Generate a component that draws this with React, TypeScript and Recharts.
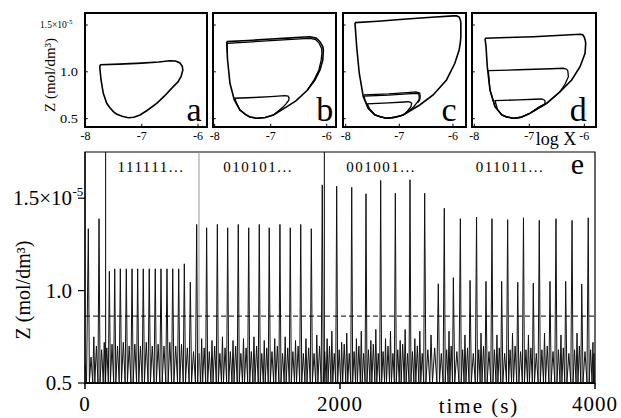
import React from 'react';
import { LineChart, Line, XAxis, YAxis, ReferenceLine, ReferenceArea } from 'recharts';

const FONT = '"Liberation Serif", "Times New Roman", serif';

// ---------- panel e : Z(t) time series ----------
// spike times (s)
const spikeTimes = [
  26, 69, 110, 151,
  191, 233, 277, 324, 369, 413, 457, 504, 551, 596, 643, 688, 735, 779, 826,
  876, 915, 954, 996, 1038, 1078, 1119, 1161, 1202, 1243, 1284, 1325, 1367, 1406, 1445, 1488, 1529, 1570, 1610, 1651, 1692, 1733, 1775, 1818,
  1861, 1899, 1936, 1974, 2013, 2053, 2092, 2129, 2167, 2204, 2242, 2281, 2319, 2357, 2396, 2434, 2472, 2511, 2549, 2587, 2626, 2664,
  2714, 2771, 2818, 2855, 2889, 2944, 2980, 3020, 3071, 3106, 3145, 3192, 3231, 3268, 3315, 3353, 3394, 3439, 3478, 3516, 3563, 3604, 3647, 3694, 3733, 3770, 3820, 3859, 3896, 3947, 3984,
];
// spike maxima of Z (x1e-5 mol/dm3)
const spikePeaks = [
  1.335, 0.75, 1.389, 0.72,
  1.105, 1.118, 1.118, 1.118, 1.118, 1.118, 1.118, 1.118, 1.118, 1.118, 1.118, 1.118, 1.118, 1.145, 1.046,
  1.358, 0.74, 1.34, 0.73, 1.358, 0.75, 1.34, 0.73, 1.358, 0.74, 1.34, 0.75, 1.358, 0.73, 1.34, 0.74, 1.358, 0.75, 1.34, 0.73, 1.358, 0.74, 1.335, 0.76,
  1.572, 0.74, 0.78, 1.565, 0.72, 0.77, 1.559, 0.74, 0.78, 1.524, 0.73, 0.79, 1.596, 0.74, 0.78, 1.527, 0.73, 0.79, 1.6, 0.74, 0.78, 1.527,
  0.76, 1.037, 1.446, 0.78, 1.07, 1.389, 0.76, 1.055, 1.397, 0.77, 1.05, 1.389, 0.76, 1.05, 1.384, 0.77, 1.045, 1.394, 0.76, 1.04, 1.38, 0.77, 1.05, 1.389, 0.76, 1.05, 1.38, 0.77, 1.035, 1.394, 0.72,
];
// small hump maxima following each spike
const humpPeaks = [
  0.64, 0.7, 0.68, 0.69,
  0.71, 0.7, 0.72, 0.7, 0.71, 0.7, 0.72, 0.7, 0.71, 0.7, 0.72, 0.7, 0.71, 0.69, 0.67,
  0.66, 0.69, 0.67, 0.7, 0.66, 0.69, 0.67, 0.7, 0.66, 0.69, 0.67, 0.7, 0.66, 0.69, 0.67, 0.7, 0.66, 0.69, 0.67, 0.7, 0.66, 0.69, 0.66, 0.7,
  0.67, 0.7, 0.66, 0.68, 0.71, 0.66, 0.67, 0.7, 0.66, 0.68, 0.71, 0.66, 0.67, 0.7, 0.66, 0.68, 0.71, 0.66, 0.67, 0.7, 0.66, 0.68,
  0.69, 0.66, 0.68, 0.7, 0.67, 0.68, 0.69, 0.66, 0.68, 0.7, 0.67, 0.68, 0.69, 0.66, 0.68, 0.7, 0.67, 0.68, 0.69, 0.66, 0.68, 0.7, 0.67, 0.68, 0.69, 0.66, 0.68, 0.7, 0.67, 0.68, 0.66,
];
const troughZ = 0.505;
const startZ = 0.6;
const endTime = 4000;
const sectionBreaks = [162, 894, 1877];
const thresholdZ = 0.862;
const codeLabels = ['111111...', '010101...', '001001...', '011011...'];
const mainXTicks = [0, 2000, 4000];
const mainYTicks = [0.5, 1.0, 1.5];

// build the polyline from the read maxima/minima
const series: { t: number; z: number }[] = [{ t: 0, z: startZ }, { t: 12, z: troughZ }];
spikeTimes.forEach((t, i) => {
  series.push({ t, z: spikePeaks[i] });
  const next = i < spikeTimes.length - 1 ? spikeTimes[i + 1] : endTime;
  const g = next - t;
  series.push({ t: t + 0.2 * g, z: troughZ });
  series.push({ t: t + 0.5 * g, z: humpPeaks[i] });
  series.push({ t: t + 0.8 * g, z: troughZ });
});

// ---------- panels a-d : phase portraits (log X, Z) ----------
const loopA = [[-7.74,1.075],[-7.4,1.082],[-7.0,1.093],[-6.7,1.105],[-6.5,1.118],[-6.4,1.116],[-6.32,1.095],[-6.28,1.06],[-6.27,1.02],[-6.3,0.95],[-6.36,0.89],[-6.44,0.842],[-6.6,0.74],[-6.734,0.664],[-6.9,0.59],[-7.03,0.54],[-7.14,0.515],[-7.24,0.51],[-7.35,0.525],[-7.45,0.55],[-7.505,0.575],[-7.57,0.62],[-7.623,0.664],[-7.684,0.771],[-7.724,0.913],[-7.745,1.04],[-7.74,1.075]];

const loopBOuter = [[-7.786,1.322],[-7.4,1.335],[-7.071,1.347],[-6.7,1.36],[-6.4,1.372],[-6.298,1.375],[-6.19,1.36],[-6.12,1.322],[-6.07,1.27],[-6.06,1.233],[-6.07,1.126],[-6.12,1.02],[-6.21,0.913],[-6.35,0.8],[-6.55,0.69],[-6.71,0.628],[-6.95,0.54],[-7.1,0.512],[-7.25,0.504],[-7.38,0.52],[-7.45,0.545],[-7.55,0.593],[-7.65,0.7],[-7.727,0.878],[-7.77,1.126],[-7.786,1.322]];
const loopBTwin = [[-7.772,1.2],[-7.78,1.305],[-7.4,1.318],[-7.071,1.33],[-6.7,1.343],[-6.4,1.355],[-6.29,1.357],[-6.2,1.345],[-6.14,1.31],[-6.09,1.25],[-6.085,1.2],[-6.1,1.12],[-6.14,1.02],[-6.22,0.92],[-6.35,0.8]];
const loopBInner = [[-7.25,0.504],[-7.38,0.52],[-7.45,0.545],[-7.55,0.593],[-7.62,0.68],[-7.637,0.718],[-7.3,0.726],[-7.0,0.735],[-6.75,0.745],[-6.69,0.74],[-6.67,0.72],[-6.68,0.695],[-6.73,0.655],[-6.775,0.628],[-6.95,0.54],[-7.1,0.512],[-7.25,0.504]];

const loopCOuter = [[-7.827,1.525],[-7.4,1.54],[-6.927,1.561],[-6.4,1.582],[-5.996,1.597],[-5.93,1.597],[-5.885,1.585],[-5.86,1.55],[-5.853,1.52],[-5.853,1.375],[-5.865,1.3],[-5.885,1.233],[-5.965,1.091],[-6.12,0.913],[-6.37,0.753],[-6.62,0.646],[-6.927,0.54],[-7.08,0.515],[-7.236,0.504],[-7.35,0.52],[-7.455,0.54],[-7.58,0.611],[-7.672,0.735],[-7.747,0.985],[-7.795,1.268],[-7.827,1.525]];
const loopCMid = [[-7.236,0.504],[-7.35,0.52],[-7.455,0.54],[-7.58,0.611],[-7.64,0.7],[-7.66,0.742],[-7.2,0.752],[-6.85,0.765],[-6.678,0.771],[-6.64,0.765],[-6.63,0.74],[-6.63,0.707],[-6.67,0.67],[-6.74,0.622],[-6.927,0.54],[-7.08,0.515],[-7.236,0.504]];
const loopCMidTwin = [[-7.66,0.755],[-7.2,0.765],[-6.85,0.778],[-6.69,0.785],[-6.62,0.775],[-6.61,0.74],[-6.62,0.7],[-6.66,0.67]];
const loopCInner = [[-7.236,0.504],[-7.35,0.52],[-7.455,0.54],[-7.55,0.6],[-7.598,0.657],[-7.2,0.668],[-6.9,0.678],[-6.834,0.681],[-6.79,0.675],[-6.77,0.664],[-6.784,0.628],[-6.85,0.58],[-6.927,0.54],[-7.08,0.515],[-7.236,0.504]];

const loopDOuter = [[-7.805,1.358],[-7.4,1.366],[-6.927,1.375],[-6.5,1.388],[-6.078,1.401],[-6.03,1.395],[-6.005,1.375],[-5.985,1.34],[-5.975,1.305],[-5.987,1.198],[-6.078,1.055],[-6.23,0.913],[-6.44,0.788],[-6.684,0.664],[-6.987,0.558],[-7.15,0.515],[-7.29,0.504],[-7.42,0.52],[-7.5,0.54],[-7.624,0.628],[-7.715,0.806],[-7.764,1.055],[-7.787,1.268],[-7.805,1.358]];
const loopDMid = [[-7.29,0.504],[-7.42,0.52],[-7.5,0.54],[-7.624,0.628],[-7.715,0.806],[-7.745,1.012],[-7.2,1.022],[-6.6,1.033],[-6.382,1.038],[-6.32,1.028],[-6.3,1.009],[-6.29,0.948],[-6.35,0.87],[-6.44,0.788],[-6.684,0.664],[-6.987,0.558],[-7.15,0.515],[-7.29,0.504]];
const loopDInner = [[-7.29,0.504],[-7.42,0.52],[-7.5,0.54],[-7.58,0.6],[-7.624,0.692],[-7.2,0.7],[-6.9,0.707],[-6.775,0.71],[-6.73,0.7],[-6.715,0.689],[-6.715,0.657],[-6.836,0.622],[-6.987,0.558],[-7.15,0.515],[-7.29,0.504]];

const phaseXTicks = [-8, -7, -6];
const phaseYTicks = [0.5, 1.0, 1.5];
const PY_MIN = 0.411;
const PY_MAX = 1.628;

const panels = [
  { key: 'a', left: 85, right: 207, xMin: -8.009, xMax: -5.84, loops: [loopA], showY: true },
  { key: 'b', left: 213, right: 336, xMin: -8.03, xMax: -5.834, loops: [loopBOuter, loopBTwin, loopBInner], showY: false },
  { key: 'c', left: 343, right: 466, xMin: -8.05, xMax: -5.757, loops: [loopCOuter, loopCMid, loopCMidTwin, loopCInner], showY: false },
  { key: 'd', left: 472, right: 596, xMin: -8.042, xMax: -5.788, loops: [loopDOuter, loopDMid, loopDInner], showY: false },
];

const toPts = (arr: number[][]) => arr.map(([x, z]) => ({ x, z }));

const SmallXTick = (props: any) => {
  const { x, y, payload } = props;
  return (
    <text x={x} y={y + 13} textAnchor="middle" fontSize={12} fontFamily={FONT} fill="#000">
      {String(payload.value)}
    </text>
  );
};

const SmallYTick = (props: any) => {
  const { y, payload } = props;
  const v = payload.value;
  if (v === 1.5) {
    return (
      <text x={40} y={y + 3} fontSize={9.5} fontFamily={FONT} fill="#000">
        1.5×10<tspan fontSize={7} dy={-4}>-5</tspan>
      </text>
    );
  }
  return (
    <text transform={`translate(78,${y + 4}) scale(1.2,1)`} textAnchor="end" fontSize={12} fontFamily={FONT} fill="#000">
      {v.toFixed(1)}
    </text>
  );
};

const MainXTick = (props: any) => {
  const { x, y, payload } = props;
  return (
    <text x={x} y={y + 18} textAnchor="middle" fontSize={21} letterSpacing={1} fontFamily={FONT} fill="#000">
      {payload.value}
    </text>
  );
};

const MainYTick = (props: any) => {
  const { x, y, payload } = props;
  const v = payload.value;
  if (v === 1.5) {
    return (
      <g>
        <text x={x} y={y + 7} textAnchor="end" fontSize={21} fontFamily={FONT} fill="#000">1.5×10</text>
        <text x={x + 0.5} y={y - 2} fontSize={13} fontFamily={FONT} fill="#000">-5</text>
      </g>
    );
  }
  return (
    <text x={x} y={y + 7} textAnchor="end" fontSize={21} fontFamily={FONT} fill="#000">
      {v.toFixed(1)}
    </text>
  );
};

function SmallPanel({ p }: { p: any }) {
  const tickLen = 0.05;
  const tickLenY = 0.035;
  return (
    <div style={{ position: 'absolute', left: 0, top: 0 }}>
      <LineChart
        width={621}
        height={418}
        margin={{ top: 13, right: 621 - p.right, bottom: 418 - 127 - 20, left: p.left - 40 }}
      >
        <XAxis
          type="number"
          dataKey="x"
          domain={[p.xMin, p.xMax]}
          allowDataOverflow
          ticks={phaseXTicks}
          height={20}
          tickSize={0}
          tickMargin={0}
          axisLine={false}
          tickLine={false}
          tick={SmallXTick}
        />
        <YAxis
          type="number"
          domain={[PY_MIN, PY_MAX]}
          allowDataOverflow
          ticks={phaseYTicks}
          width={40}
          axisLine={false}
          tickLine={false}
          tick={p.showY ? SmallYTick : false}
        />
        {p.loops.map((l: number[][], i: number) => (
          <Line
            key={i}
            data={toPts(l)}
            dataKey="z"
            type="linear"
            stroke="#000"
            strokeWidth={i === 0 ? 1.6 : 1.3}
            dot={false}
            activeDot={false}
            isAnimationActive={false}
          />
        ))}
        {phaseYTicks.map((v) => (
          <ReferenceLine key={'yt' + v} segment={[{ x: p.xMin, y: v }, { x: p.xMin + tickLen, y: v }]} stroke="#000" strokeWidth={1} />
        ))}
        {phaseXTicks.map((v) => (
          <ReferenceLine key={'xt' + v} segment={[{ x: v, y: PY_MIN }, { x: v, y: PY_MIN + tickLenY }]} stroke="#000" strokeWidth={1} />
        ))}
        <ReferenceArea x1={p.xMin} x2={p.xMax} y1={PY_MIN} y2={PY_MAX} fill="none" fillOpacity={0} stroke="#000" strokeWidth={2} ifOverflow="visible" />
      </LineChart>
    </div>
  );
}

function MainPanel() {
  return (
    <div style={{ position: 'absolute', left: 0, top: 0 }}>
      <LineChart width={621} height={418} margin={{ top: 152, right: 26, bottom: 5, left: 25 }}>
        <XAxis
          type="number"
          dataKey="t"
          domain={[0, 4000]}
          allowDataOverflow
          ticks={mainXTicks}
          height={30}
          tickSize={6}
          tickMargin={4}
          axisLine={{ stroke: '#000', strokeWidth: 2 }}
          tickLine={{ stroke: '#000', strokeWidth: 1.5 }}
          tick={MainXTick}
        />
        <YAxis
          type="number"
          domain={[0.5, 1.75]}
          allowDataOverflow
          ticks={mainYTicks}
          width={60}
          tickSize={7}
          tickMargin={6}
          axisLine={{ stroke: '#000', strokeWidth: 1.2 }}
          tickLine={{ stroke: '#000', strokeWidth: 1.2 }}
          tick={MainYTick}
        />
        <ReferenceArea x1={0} x2={4000} y1={0.5} y2={1.75} fill="none" fillOpacity={0} stroke="#000" strokeWidth={1.2} ifOverflow="visible" />
        <Line
          data={series}
          dataKey="z"
          type="linear"
          stroke="#111"
          strokeWidth={1}
          dot={false}
          activeDot={false}
          isAnimationActive={false}
        />
        {sectionBreaks.map((t, i) => (
          <ReferenceLine key={t} x={t} stroke={i === 1 ? '#999' : '#000'} strokeWidth={1} />
        ))}
        <ReferenceLine y={thresholdZ} stroke="#000" strokeWidth={1} strokeDasharray="5 3" />
      </LineChart>
    </div>
  );
}

const codeX = [151, 258, 381, 510];
const letterRight = [201.7, 333.3, 456.7, 586.7];

export default function App() {
  return (
    <div style={{ position: 'absolute', left: 0, top: 0, width: 621, height: 418, background: '#fff', overflow: 'hidden' }}>
      {panels.map((p) => (
        <SmallPanel key={p.key} p={p} />
      ))}
      <MainPanel />
      <svg width={621} height={418} style={{ position: 'absolute', left: 0, top: 0, pointerEvents: 'none' }} fontFamily={FONT}>
        {codeLabels.map((c, i) => (
          <text key={c} x={codeX[i]} y={172} textAnchor="middle" fontSize={15} letterSpacing={1.5} fill="#000">{c}</text>
        ))}
        <text x={577.5} y={174} textAnchor="middle" fontSize={30} fill="#000">e</text>
        {panels.map((p, i) => (
          <text key={p.key} x={letterRight[i]} y={120.5} textAnchor="end" fontSize={34} fill="#000">{p.key}</text>
        ))}
        <text x={479} y={412.5} textAnchor="middle" fontSize={21} letterSpacing={2} fill="#000">time (s)</text>
        <text x={556} y={145} textAnchor="middle" fontSize={18} fill="#000">log X</text>
        <text transform="translate(30,290) rotate(-90)" textAnchor="middle" fontSize={20} fill="#000">Z (mol/dm³)</text>
        <text transform="translate(55,75) rotate(-90)" textAnchor="middle" fontSize={15} fill="#000">Z (mol/dm³)</text>
      </svg>
    </div>
  );
}
